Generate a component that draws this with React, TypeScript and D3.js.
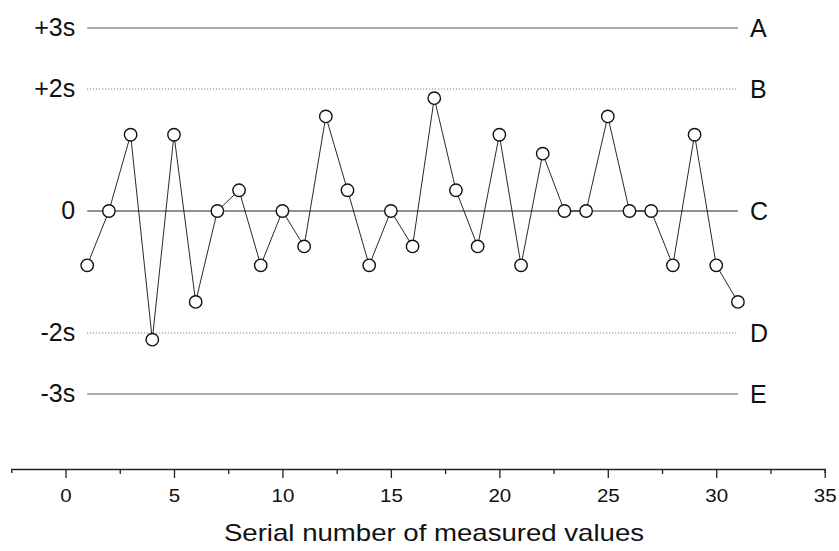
import { useEffect, useRef } from "react";
import * as d3 from "d3";

// serial number 1..31, value in units of s
const serial = d3.range(1, 32);
const values = [
  -0.89, 0, 1.25, -2.11, 1.25, -1.49, 0, 0.34, -0.89, 0, -0.58, 1.55, 0.34, -0.89, 0, -0.58,
  1.85, 0.34, -0.58, 1.25, -0.89, 0.94, 0, 0, 1.55, 0, 0, -0.89, 1.25, -0.89, -1.49,
];

const limitLevels = [3, 2, 0, -2, -3];
const limitLeft = ["+3s", "+2s", "0", "-2s", "-3s"];
const limitRight = ["A", "B", "C", "D", "E"];
const limitDotted = [false, true, false, true, false];

const majorTicks = [0, 5, 10, 15, 20, 25, 30, 35];
const minorTicks = [2.5, 7.5, 12.5, 17.5, 22.5, 27.5, 32.5];

const FONT = "'Liberation Sans', Arial, Helvetica, sans-serif";

export default function App() {
  const svgRef = useRef<SVGSVGElement>(null);

  useEffect(() => {
    const el = svgRef.current;
    if (!el) return;
    const W = 839;
    const H = 551;
    d3.select(el).selectAll("*").remove();
    const svg = d3.select(el).attr("viewBox", `0 0 ${W} ${H}`);

    const x = d3.scaleLinear().domain([-2.5, 35]).range([11.3, 824.7]);
    const y = d3.scaleLinear().domain([-3, 3]).range([394, 28]);
    const x0 = serial[0];
    const x1 = serial[serial.length - 1];

    // control limit lines
    limitLevels.forEach((lv, i) => {
      svg.append("line")
        .attr("x1", x(x0)).attr("x2", x(x1))
        .attr("y1", y(lv)).attr("y2", y(lv))
        .attr("stroke", limitDotted[i] ? "#666" : lv === 0 ? "#222" : "#555")
        .attr("stroke-width", limitDotted[i] ? 1 : 1.1)
        .attr("stroke-dasharray", limitDotted[i] ? "1,2" : null);

      svg.append("text")
        .attr("x", x(x0) - 12).attr("y", y(lv) + 8)
        .attr("text-anchor", "end")
        .attr("font-family", FONT).attr("font-size", 25)
        .attr("fill", "#111")
        .text(limitLeft[i]);

      svg.append("text")
        .attr("x", x(x1) + 12).attr("y", y(lv) + 9)
        .attr("font-family", FONT).attr("font-size", 25)
        .attr("fill", "#111")
        .text(limitRight[i]);
    });

    const pts = serial.map((s, i) => ({ s, v: values[i] }));

    svg.append("path").datum(pts)
      .attr("fill", "none").attr("stroke", "#111").attr("stroke-width", 0.9)
      .attr("d", d3.line<{ s: number; v: number }>().x(d => x(d.s)).y(d => y(d.v)));

    svg.append("g").selectAll("circle").data(pts).join("circle")
      .attr("cx", d => x(d.s)).attr("cy", d => y(d.v)).attr("r", 6.2)
      .attr("fill", "#fff").attr("stroke", "#111").attr("stroke-width", 1.4);

    // x axis
    const axisY = 469;
    svg.append("g").attr("transform", `translate(0,${axisY})`)
      .call(d3.axisBottom(x).tickValues(minorTicks).tickSize(5).tickSizeOuter(0).tickFormat(() => ""))
      .call(ax => ax.select(".domain").remove())
      .call(ax => ax.selectAll("line").attr("stroke", "#222").attr("stroke-width", 1.3));

    svg.append("g").attr("transform", `translate(0,${axisY})`)
      .call(d3.axisBottom(x).tickValues(majorTicks).tickSize(9).tickSizeOuter(4).tickPadding(11).tickFormat(d3.format("d")))
      .call(ax => ax.select(".domain").attr("stroke", "#222").attr("stroke-width", 1.4))
      .call(ax => ax.selectAll("line").attr("stroke", "#222").attr("stroke-width", 1.3))
      .call(ax => ax.selectAll("text")
        .attr("fill", "#111").attr("font-size", 19).attr("font-family", FONT)
        .attr("transform", "scale(1.08,1)"));

    svg.append("text")
      .attr("transform", `translate(434,541) scale(1.2,1)`)
      .attr("text-anchor", "middle")
      .attr("font-family", FONT).attr("font-size", 23).attr("fill", "#111")
      .text("Serial number of measured values");
  }, []);

  return (
    <svg
      ref={svgRef}
      width={839}
      height={551}
      style={{ position: "absolute", left: 0, top: 0, background: "#fff" }}
    />
  );
}
